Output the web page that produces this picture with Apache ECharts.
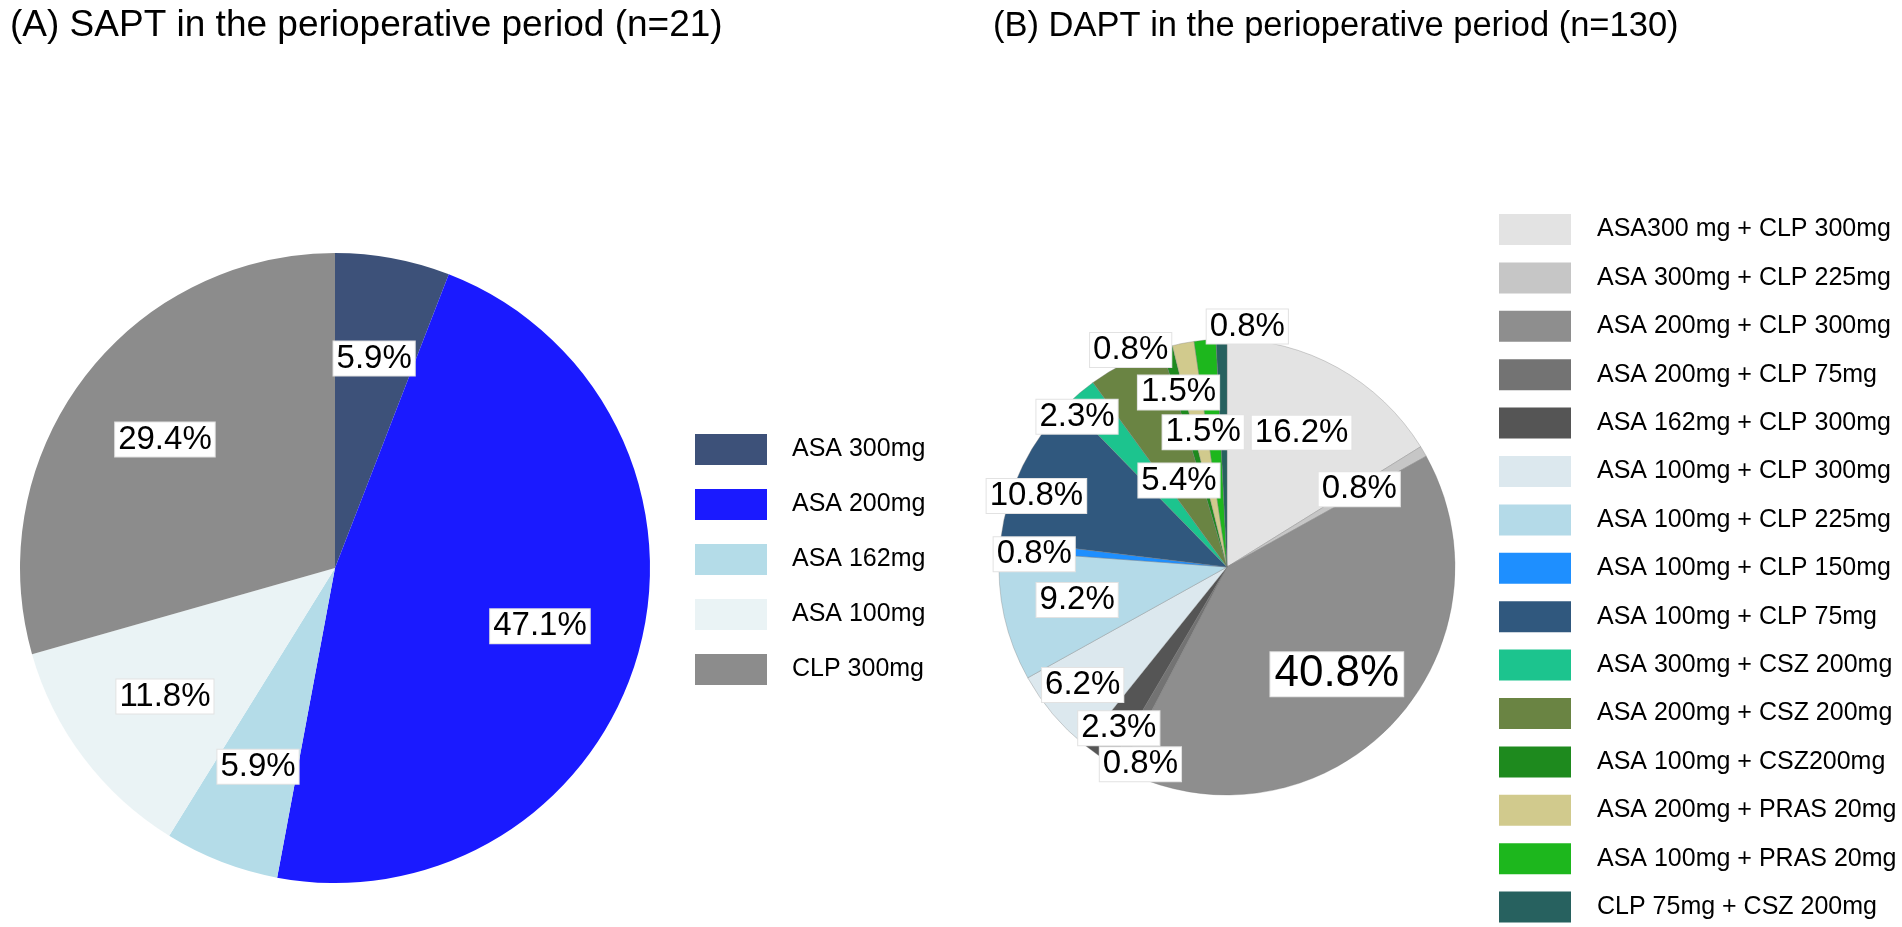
<!DOCTYPE html>
<html><head><meta charset="utf-8">
<script src="https://cdn.jsdelivr.net/npm/echarts@6/dist/echarts.min.js"></script>
<style>html,body{margin:0;padding:0;background:#fff;} #c{width:1902px;height:927px;}</style>
</head><body><div id="c"></div>
<script>
// ---------- data ----------
const titleA = '(A) SAPT in the perioperative period (n=21)';
const titleB = '(B) DAPT in the perioperative period (n=130)';
const categoriesA = ['ASA 300mg', 'ASA 200mg', 'ASA 162mg', 'ASA 100mg', 'CLP 300mg'];
const countsA = [1, 8, 1, 2, 5];
const categoriesB = [
  'ASA300 mg + CLP 300mg', 'ASA 300mg + CLP 225mg', 'ASA 200mg + CLP 300mg',
  'ASA 200mg + CLP 75mg', 'ASA 162mg + CLP 300mg', 'ASA 100mg + CLP 300mg',
  'ASA 100mg + CLP 225mg', 'ASA 100mg + CLP 150mg', 'ASA 100mg + CLP 75mg',
  'ASA 300mg + CSZ 200mg', 'ASA 200mg + CSZ 200mg', 'ASA 100mg + CSZ200mg',
  'ASA 200mg + PRAS 20mg', 'ASA 100mg + PRAS 20mg', 'CLP 75mg + CSZ 200mg'
];
const countsB = [21, 1, 53, 1, 3, 8, 12, 1, 14, 3, 7, 1, 2, 2, 1];

// ---------- styles ----------
const colorsA = ['#3d5179', '#1a1aff', '#b4dce8', '#eaf3f5', '#8c8c8c'];
const colorsB = ['#e3e3e3', '#c6c6c6', '#8e8e8e', '#737373', '#555555', '#dce8ee',
  '#b4dae8', '#1e8fff', '#30587e', '#1cc48e', '#6a8443', '#1e8a1e', '#d1ca8d', '#1db71d', '#27615f'];
// label nudges (px) away from the default 0.66r position, right pie
const nudgeB = [[0, 0], [0, 0], [0, 0], [-12, 63], [-21, 35], [-27, 19], [0, 0], [-40, 2],
  [-53, -3], [-51, -33], [20, 51], [-56, -69], [-19, -24], [-9, 18], [24, -87]];
const FONT = '"Liberation Sans", Arial, Helvetica, sans-serif';

const totalA = countsA.reduce((a, b) => a + b, 0);
const totalB = countsB.reduce((a, b) => a + b, 0);
const pct = (v, t) => (v / t * 100).toFixed(1) + '%';

function mkData(cats, vals, cols) {
  return cats.map((n, i) => ({ name: n, value: vals[i], itemStyle: { color: cols[i] } }));
}
const labelBox = {
  show: true, position: 'inside', color: '#000', fontFamily: FONT, fontSize: 33,
  lineHeight: 32, backgroundColor: '#fff', borderColor: '#e2e2e2', borderWidth: 1,
  padding: [1, 3, 1, 3], textBorderWidth: 0
};

const chart = echarts.init(document.getElementById('c'));
const rA = 315, rB = 228;
chart.setOption({
  backgroundColor: '#fff',
  animation: false,
  title: [
    { text: titleA, left: 5, top: 2, textStyle: { fontFamily: FONT, fontSize: 37, fontWeight: 'normal', color: '#000' } },
    { text: titleB, left: 988, top: 4, textStyle: { fontFamily: FONT, fontSize: 34.5, fontWeight: 'normal', color: '#000' } }
  ],
  legend: [
    {
      data: categoriesA, orient: 'vertical', left: 695, top: 434, height: 300, padding: 0,
      itemWidth: 72, itemHeight: 31, itemGap: 24, icon: 'rect', selectedMode: false,
      itemStyle: { borderWidth: 0 },
      textStyle: { fontFamily: FONT, fontSize: 25, color: '#000', padding: [0, 0, 0, 20], lineHeight: 26 }
    },
    {
      data: categoriesB, orient: 'vertical', left: 1499, top: 214, height: 713, padding: 0,
      itemWidth: 72, itemHeight: 31, itemGap: 17.4, icon: 'rect', selectedMode: false,
      itemStyle: { borderWidth: 0 },
      textStyle: { fontFamily: FONT, fontSize: 25, color: '#000', padding: [0, 0, 0, 21], lineHeight: 26 }
    }
  ],
  series: [
    {
      type: 'pie', center: [335, 568], radius: [0, rA], startAngle: 90, clockwise: true,
      silent: true, label: { show: false }, labelLine: { show: false },
      itemStyle: { borderWidth: 0 },
      data: mkData(categoriesA, countsA, colorsA)
    },
    {
      type: 'pie', center: [1227, 567], radius: [0, rB], startAngle: 90, clockwise: true,
      silent: true, label: { show: false }, labelLine: { show: false },
      itemStyle: { borderColor: 'rgba(120,120,120,0.55)', borderWidth: 0.6 },
      data: mkData(categoriesB, countsB, colorsB)
    },
    {
      type: 'pie', center: [335, 568], radius: [rA * 0.334, rA], startAngle: 90, clockwise: true,
      silent: true, z: 5, legendHoverLink: false,
      itemStyle: { color: 'rgba(0,0,0,0)', borderWidth: 0 },
      label: Object.assign({}, labelBox, { formatter: p => pct(p.value, totalA) }),
      labelLine: { show: false },
      data: categoriesA.map((n, i) => ({ name: n, value: countsA[i] }))
    },
    {
      type: 'pie', center: [1227, 567], radius: [rB * 0.32, rB], startAngle: 90, clockwise: true,
      silent: true, z: 5, legendHoverLink: false,
      itemStyle: { color: 'rgba(0,0,0,0)', borderWidth: 0 },
      label: Object.assign({}, labelBox, { formatter: p => pct(p.value, totalB) }),
      labelLine: { show: false },
      labelLayout: p => ({ dx: nudgeB[p.dataIndex][0], dy: nudgeB[p.dataIndex][1] }),
      data: categoriesB.map((n, i) => (i === 2
        ? { name: n, value: countsB[i], label: { fontSize: 44, lineHeight: 42, padding: [1, 4, 1, 4] } }
        : { name: n, value: countsB[i] }))
    }
  ]
});
</script></body></html>
